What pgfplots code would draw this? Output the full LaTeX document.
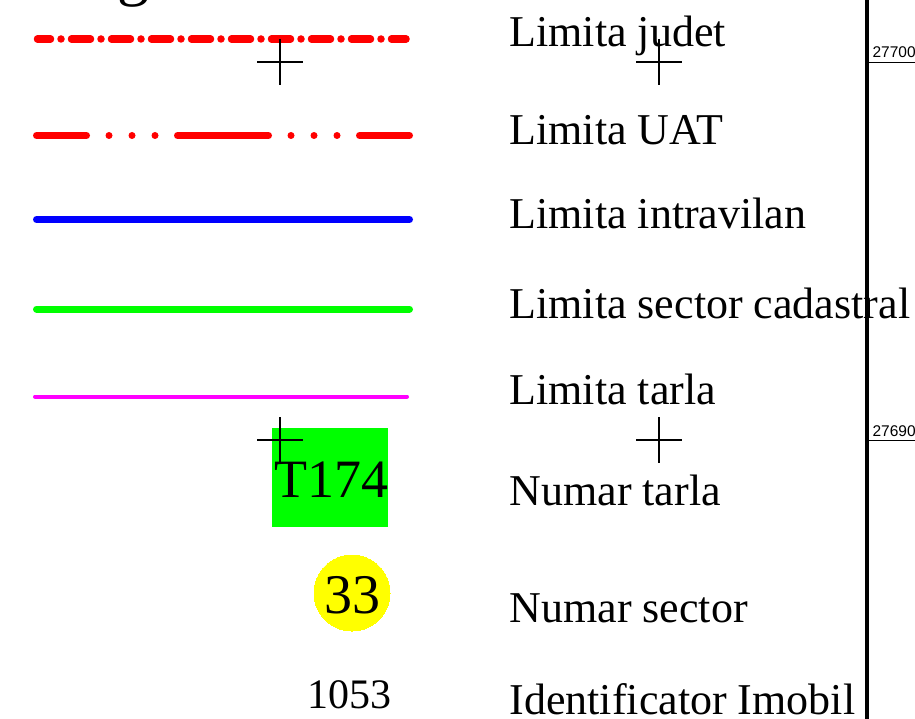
\documentclass[border=0pt]{standalone}
\usepackage{pgfplots}
\pgfplotsset{compat=1.18}
\usepackage{fontspec}
\setmainfont{Liberation Serif}
\newfontfamily\sansf{Liberation Sans}
\definecolor{cred}{RGB}{255,0,0}
\definecolor{cblue}{RGB}{0,0,255}
\definecolor{cgreen}{RGB}{0,255,0}
\definecolor{cmag}{RGB}{255,0,255}
\definecolor{cyel}{RGB}{255,255,0}
\newcommand{\fs}[1]{\fontsize{#1bp}{#1bp}\selectfont}
\begin{document}
\begin{tikzpicture}
\begin{axis}[
  name=ax,
  scale only axis,
  width=915bp, height=719bp,
  xmin=0, xmax=915, ymin=0, ymax=719,
  y dir=reverse,
  hide axis,
  clip=false,
  every node/.append style={inner sep=0pt, outer sep=0pt},
]
% title (cut off)
\node[anchor=base west, font=\fs{64}] at (axis cs:46,-6) {Legenda};
% Limita judet
\addplot[mark=none, cred, line width=7.5bp, line cap=round,
  dash pattern=on 19bp off 10.5bp on 0bp off 10.5bp, dash phase=6bp]
  coordinates {(37.5,39) (406,39)};
% Limita UAT
\addplot[mark=none, cred, line width=7bp, line cap=round,
  dash pattern=on 91bp off 22.5bp on 0bp off 23bp on 0bp off 23bp on 0bp off 22.5bp, dash phase=41bp]
  coordinates {(36.5,135.5) (409.5,135.5)};
% Limita intravilan
\addplot[mark=none, cblue, line width=7bp, line cap=round]
  coordinates {(36.5,219.5) (409.5,219.5)};
% Limita sector cadastral
\addplot[mark=none, cgreen, line width=7bp, line cap=round]
  coordinates {(36.5,309) (409.5,309)};
% Limita tarla
\addplot[mark=none, cmag, line width=4bp, line cap=round]
  coordinates {(35,396.5) (407,396.5)};
% Numar tarla box
\addplot[mark=none, draw=none, fill=cgreen]
  coordinates {(272,428) (388,428) (388,527) (272,527) (272,428)} -- cycle;
% Numar sector circle with its number
\addplot[only marks, mark=*, mark size=38bp,
  mark options={draw=cyel, fill=cyel, line width=0pt},
  nodes near coords={33},
  every node near coord/.style={anchor=base, yshift=-20bp, font=\fs{56}, text=black, inner sep=0pt}]
  coordinates {(352,593)};
% right frame
\addplot[mark=none, black, line width=3.3bp]
  coordinates {(867,-5) (867,725)};
\addplot[mark=none, black, line width=0.8bp]
  coordinates {(867,62) (916,62)};
\addplot[mark=none, black, line width=0.8bp]
  coordinates {(867,440) (916,440)};
% grid crosses
\addplot[only marks, mark=+, mark size=23bp, black, line width=1.3bp]
  coordinates {(280,62) (659,62) (280,440) (659,440)};
% symbol texts
\node[anchor=base west, font=\fs{54}] at (axis cs:271,497) {T174};
\node[anchor=base west, font=\fs{42}] at (axis cs:304,708) {1053};
% labels
\node[anchor=base west, font=\fs{44}] at (axis cs:506,47) {Limita judet};
\node[anchor=base west, font=\fs{44}] at (axis cs:506,145) {Limita UAT};
\node[anchor=base west, font=\fs{44}] at (axis cs:506,228) {Limita intravilan};
\node[anchor=base west, font=\fs{44}] at (axis cs:506,318) {Limita sector cadastral};
\node[anchor=base west, font=\fs{44}] at (axis cs:506,404) {Limita tarla};
\node[anchor=base west, font=\fs{44}] at (axis cs:506,505) {Numar tarla};
\node[anchor=base west, font=\fs{44}] at (axis cs:506,622) {Numar sector};
\node[anchor=base west, font=\fs{44}] at (axis cs:506,714) {Identificator Imobil};
% coordinate labels
\node[anchor=base west, font=\sansf\fs{15.5}] at (axis cs:869,58) {27700};
\node[anchor=base west, font=\sansf\fs{15.5}] at (axis cs:869,436) {27690};
\end{axis}
\pgfresetboundingbox
\useasboundingbox (ax.south west) rectangle (ax.north east);
\end{tikzpicture}
\end{document}
